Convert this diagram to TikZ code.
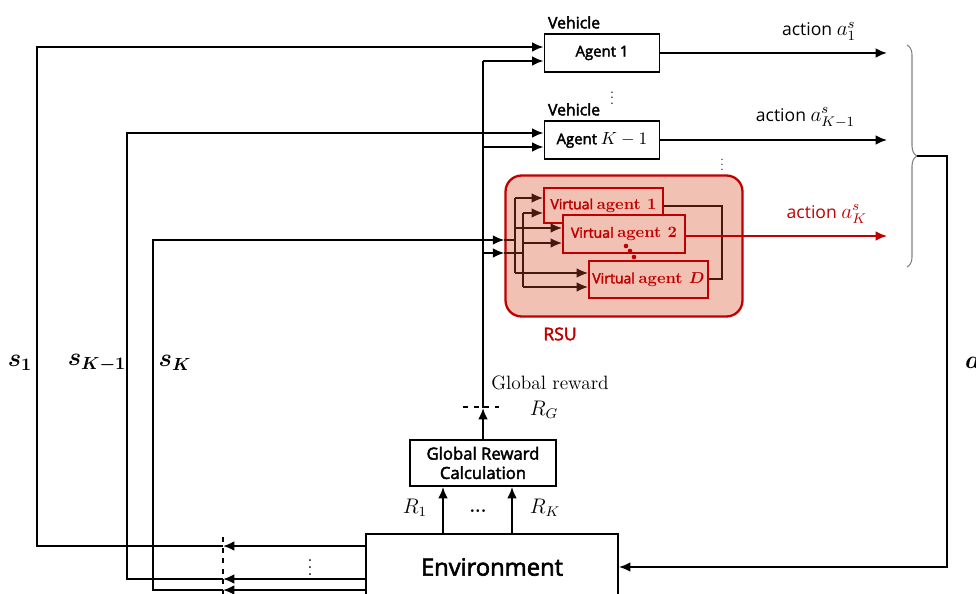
\documentclass[tikz,border=0pt]{standalone}
\usepackage{amsmath,amssymb}
\usepackage{fontspec}
\newfontfamily\gothic{Open Sans}[AutoFakeBold=2.5]
\usetikzlibrary{arrows,arrows.meta,positioning,shapes,decorations.pathreplacing}
\definecolor{rsured}{RGB}{192,0,0}
\definecolor{rsufill}{RGB}{241,194,180}
\definecolor{rsubrown}{RGB}{70,25,15}

\begin{document}
\begin{tikzpicture}[x=0.02cm, y=-0.02cm, >={Latex[length=6.5pt,width=5.5pt]}, line width=1.1pt,
    box/.style={draw, line width=1.1pt, fill=white, inner sep=0pt},
    agent/.style={box, minimum width=2.3cm, minimum height=0.76cm, font=\gothic\bfseries\fontsize{8.5}{10}\selectfont},
    vagent/.style={draw=rsured, line width=1.1pt, fill=rsufill, text=rsured, inner sep=0pt, font=\gothic\bfseries\fontsize{8}{9}\selectfont},
    veh/.style={anchor=south west, inner sep=2pt, font=\gothic\bfseries\fontsize{9}{10}\selectfont},
    act/.style={font=\gothic\fontsize{10}{12}\selectfont},
    wire/.style={->, rsubrown, line width=0.9pt}]
    \useasboundingbox (0,0) rectangle (976,594);

    % Agents on vehicles
    \node[agent] (a1) at (602,53) {Agent 1};
    \node[agent] (ak1) at (602,140) {Agent {\fontsize{10}{10}\selectfont$K-1$}};
    \node[veh] (v1) at (a1.north west) {Vehicle};
    \node[veh] (v2) at (ak1.north west) {Vehicle};
    \node[scale=0.8] at (612,94) {$\vdots$};
    \node[scale=0.7] at (722,161) {$\vdots$};

    % RSU with virtual agents
    \node[draw=rsured, fill=rsufill, rounded corners=0.32cm, line width=1.3pt,
          minimum width=4.74cm, minimum height=2.82cm] (rsu) at (624,246) {};
    \node[text=rsured, font=\gothic\bfseries\fontsize{10}{12}\selectfont] (rsulbl) at (560,334) {RSU};
    \node[vagent, minimum width=2.38cm, minimum height=0.7cm] (va1) at (603.5,205.5)
        {Virtual {\rmfamily\fontsize{9}{9}\selectfont agent 1}};
    \node[vagent, minimum width=2.44cm, minimum height=0.76cm] (va2) at (624,234)
        {Virtual {\rmfamily\fontsize{9}{9}\selectfont agent 2}};
    \node[vagent, minimum width=2.38cm, minimum height=0.74cm] (vad) at (648.5,279.5)
        {Virtual {\rmfamily\fontsize{9}{9}\selectfont agent $\boldsymbol{D}$}};
    \foreach \p in {(626,246),(630,251),(634,257)}
        \fill[rsured] \p circle[radius=1.3pt];

    % inputs split inside the RSU
    \coordinate (in1) at (rsu.west |- 0,240);
    \coordinate (in2) at (rsu.west |- 0,253);
    \draw[rsubrown, line width=0.9pt] (in1) -- (515,240) (515,198) -- (515,273);
    \draw[rsubrown, line width=0.9pt] (in2) -- (523,253) (523,213) -- (523,287);
    \foreach \y/\n in {198/va1, 228/va2, 273/vad}
        \draw[wire] (515,\y) -- (\n.west |- 0,\y);
    \foreach \y/\n in {213/va1, 243/va2, 287/vad}
        \draw[wire] (523,\y) -- (\n.west |- 0,\y);
    \draw[rsubrown, line width=0.9pt] (va1.east |- 0,206) -| (722,279) -- (vad.east |- 0,279);

    % actions
    \draw[->] (a1.east) -- (887,53) node[act, pos=0.7, above=3pt] (act1) {action \large$a_1^s$};
    \draw[->] (ak1.east) -- (887,140) node[act, pos=0.64, above=3pt] (act2) {action \large$a_{K-1}^s$};
    \draw[->, rsured] (va2.east |- 0,236) -- (887,236) node[act, text=rsured, pos=0.7, above=3pt] (act3) {action \large$a_K^s$};
    \draw[gray, line width=0.6pt, decorate, decoration={brace, amplitude=0.2cm}] (907,45) -- (907,267);
    \coordinate (brtip) at (917,156);

    % Global reward
    \node[box, minimum width=2.92cm, minimum height=0.92cm, align=center,
          font=\gothic\bfseries\fontsize{9.5}{11}\selectfont] (grc) at (483,463) {Global Reward\\Calculation};
    \node[box, minimum width=5.04cm, minimum height=1.32cm,
          font=\gothic\bfseries\fontsize{13.5}{15}\selectfont] (env) at (492,567) {Environment};
    \coordinate (gtip) at (483,408);
    \draw[->] (grc.north) -- (gtip);
    \draw (gtip) -- (483,61);
    \draw[dashed, line width=0.9pt] (463,407) -- (499,407);
    \node[font=\fontsize{11}{13}\selectfont] (grlbl) at (550,383) {Global reward};
    \node[font=\fontsize{12}{13}\selectfont] (rg) at (544,410) {$R_G$};
    \draw[->] (483,61) -- (a1.west |- 0,61);
    \draw[->] (483,147) -- (ak1.west |- 0,147);
    \draw[->] (483,253) -- (in2);

    % rewards from environment
    \draw[->] (env.north -| 443,0) -- (grc.south -| 443,0);
    \draw[->] (env.north -| 512,0) -- (grc.south -| 512,0);
    \node[font=\fontsize{12}{13}\selectfont] (r1) at (415,508) {$R_1$};
    \node[font=\fontsize{12}{13}\selectfont] (rk) at (545,508) {$R_K$};
    \node[font=\bfseries] at (478,511) {...};

    % states back to the agents
    \draw[->] (env.west |- 0,546) -- (223,546);
    \draw[->] (223,546) -| (37,47) -- (a1.west |- 0,47);
    \draw[->] (env.west |- 0,579) -- (223,579);
    \draw[->] (223,579) -| (127,133) -- (ak1.west |- 0,133);
    \draw[->] (env.west |- 0,590) -- (223,590);
    \draw[->] (223,590) -| (153,240) -- (in1);
    \draw[dashed, line width=0.9pt] (223,537) -- (223,600);
    \node at (310,562) {$\vdots$};
    \node[font=\fontsize{14}{15}\selectfont] (s1) at (20,363) {$\boldsymbol{s_1}$};
    \node[font=\fontsize{14}{15}\selectfont] (sk1) at (97,363) {$\boldsymbol{s_{K-1}}$};
    \node[font=\fontsize{14}{15}\selectfont] (sk) at (175,363) {$\boldsymbol{s_K}$};

    % joint action fed to the environment
    \draw[->] (brtip) -- (947,156) |- (env.east);
    \node[font=\fontsize{14}{15}\selectfont] (alb) at (973,363) {$\boldsymbol{a}$};
\end{tikzpicture}
\end{document}
